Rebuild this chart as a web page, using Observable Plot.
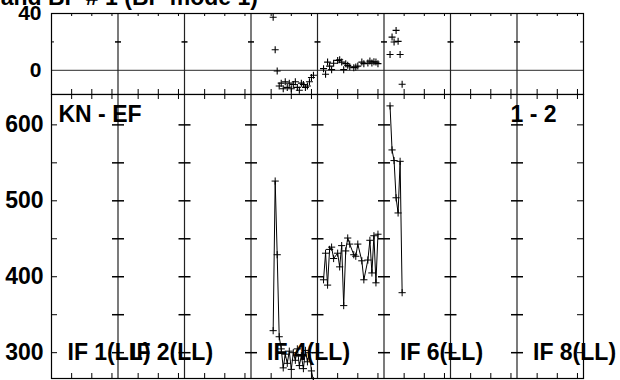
<!DOCTYPE html>
<html><head><meta charset="utf-8">
<script src="https://cdn.jsdelivr.net/npm/d3@7"></script>
<script src="https://cdn.jsdelivr.net/npm/@observablehq/plot@0.6"></script>
<style>
html,body{margin:0;padding:0;background:#fff;}
#wrap{position:relative;width:620px;height:380px;overflow:hidden;background:#fff;font-family:"Liberation Sans",Arial,sans-serif;font-weight:bold;}
#title{position:absolute;right:362px;top:-14px;font-size:23px;line-height:23px;white-space:nowrap;color:#000;}
#wrap svg{position:absolute;left:0;top:0;}
</style></head><body>
<div id="wrap"><div id="title">and BP # 1 (BP mode 1)</div></div>
<script>
// ---- chart data ----
const nIF = 8, chPerIF = 33;
const baselineLabel = "KN - EF";
const stokesLabel = "1 - 2";
const ifLabelNums = [1, 2, 4, 6, 8];
const ifLabelText = ["IF 1(LL)", "IF 2(LL)", "IF 4(LL)", "IF 6(LL)", "IF 8(LL)"];
const xTickChans = [10, 20, 30];
const topTickLabels = [0, 40];
const topMinorTicks = [20];
const botTickLabels = [300, 400, 500, 600];
const botMinorTicks = [300, 350, 400, 450, 500, 550, 600];

// IF 4
const if4Chan = [11,12,13,14,15,16,17,18,19,20,21,22,23,24,25,26,27,28,29,30,31];
const if4Top  = [37.4,14.5,-0.5,-11,-9,-13,-8,-12,-9,-13,-10,-8,-12,-14,-9,-10,-12,-11,-8,-5,-3.5];
const if4Bot  = [329,526,429,321,305,280,298,286,302,278,300,290,305,283,296,279,303,288,300,276,263];
// IF 5
const if5Chan = [3,4,5,6,7,8,10,11,12,13,14,15,16,18,19,20,22,23,25,26,27,28,29,30];
const if5Top  = [1.2,-2.8,5.8,3,0.5,5,7,7.5,5.8,0.5,4.7,3.5,2.5,1.9,2.3,3,5.8,4.7,5.1,6.5,5.1,6,5.8,4.7];
const if5Bot  = [396,431,389,436,439,424,431,413,441,362,434,451,443,429,427,443,421,396,422,448,405,454,392,456];
// IF 6
const if6Chan = [3,4,5,6,7,8,9];
const if6Top  = [11.2,23.4,19.9,28.1,20.4,11.2,-9.8];
const if6Bot  = [625,567,553,504,484,552,379];

// ---- build table ----
const rows = [];
[[4, if4Chan, if4Top, if4Bot], [5, if5Chan, if5Top, if5Bot], [6, if6Chan, if6Top, if6Bot]]
  .forEach(([k, ch, tp, bt]) => ch.forEach((c, i) => rows.push({if: k, x: (k - 1) * chPerIF + c, top: tp[i], bot: bt[i]})));

const bounds = d3.range(1, nIF).map(k => k * chPerIF);
const xTickPos = d3.range(nIF).flatMap(k => xTickChans.map(c => k * chPerIF + c));
const ifLabels = ifLabelNums.map((n, i) => ({x: (n - 1) * chPerIF, t: ifLabelText[i], dx: n === 2 ? 12 : 16}));
const cross = (xs, ys) => xs.flatMap(x => ys.map(y => ({x, y})));

const hline = r => ({draw(ctx) { ctx.moveTo(-r, 0); ctx.lineTo(r, 0); }});
const plus = {draw(ctx, size) { const r = Math.sqrt(size / Math.PI); ctx.moveTo(-r, 0); ctx.lineTo(r, 0); ctx.moveTo(0, -r); ctx.lineTo(0, r); }};

const W = 620, mL = 51, mR = 37, innerW = W - mL - mR;
const font = {fontFamily: "'Liberation Sans', Arial, sans-serif", fontWeight: "bold", background: "transparent", color: "black"};
const lw = 1.2;

// ---- top panel ----
const topH = 95, topMT = 13, topMB = 1, topInner = topH - topMT - topMB;
const topPlot = Plot.plot({
  width: W, height: topH, marginLeft: mL, marginRight: mR, marginTop: topMT, marginBottom: topMB,
  style: {...font, fontSize: "21px"},
  x: {domain: [0, nIF * chPerIF], axis: null},
  y: {domain: [-17, 40], axis: null},
  marks: [
    Plot.ruleY([0], {stroke: "#555", strokeWidth: lw}),
    Plot.ruleX(bounds, {stroke: "#222", strokeWidth: lw}),
    Plot.tickX(xTickPos, {x: d => d, insetBottom: topInner - 3, stroke: "black"}),
    Plot.tickX(xTickPos, {x: d => d, insetTop: topInner - 5, stroke: "black"}),
    Plot.dot(cross(bounds, topMinorTicks), {x: "x", y: "y", symbol: hline(3), stroke: "black"}),
    Plot.tickY(topMinorTicks, {y: d => d, insetRight: innerW - 3, stroke: "black"}),
    Plot.tickY(topMinorTicks, {y: d => d, insetLeft: innerW - 3, stroke: "black"}),
    Plot.dot(rows, {x: "x", y: "top", symbol: plus, r: 3.5, stroke: "black", strokeWidth: 1.1}),
    Plot.frame({stroke: "black", strokeWidth: lw}),
    Plot.axisY({ticks: topTickLabels, tickSize: 0, tickPadding: 10, fontSize: 21, fontWeight: "bold", tickFormat: d => String(d)})
  ]
});

// ---- bottom panel ----
const botH = 380, botMT = 94, botMB = 2, botInner = botH - botMT - botMB;
const botPlot = Plot.plot({
  width: W, height: botH, marginLeft: mL, marginRight: mR, marginTop: botMT, marginBottom: botMB,
  style: {...font, fontSize: "23px"},
  x: {domain: [0, nIF * chPerIF], axis: null},
  y: {domain: [266, 640], axis: null},
  marks: [
    Plot.ruleX(bounds, {stroke: "#222", strokeWidth: lw}),
    Plot.tickX(xTickPos, {x: d => d, insetBottom: botInner - 5, stroke: "black"}),
    Plot.tickX(xTickPos, {x: d => d, insetTop: botInner - 5, stroke: "black"}),
    Plot.dot(cross(bounds, botMinorTicks), {x: "x", y: "y", symbol: hline(6), stroke: "black"}),
    Plot.tickY(botMinorTicks, {y: d => d, insetRight: innerW - 6, stroke: "black"}),
    Plot.tickY(botMinorTicks, {y: d => d, insetLeft: innerW - 6, stroke: "black"}),
    Plot.line(rows, {x: "x", y: "bot", z: "if", stroke: "black", strokeWidth: 1}),
    Plot.dot(rows, {x: "x", y: "bot", symbol: plus, r: 3.6, stroke: "black", strokeWidth: 1}),
    Plot.frame({stroke: "black", strokeWidth: lw}),
    Plot.text([baselineLabel], {frameAnchor: "top-left", text: d => d, textAnchor: "start", lineAnchor: "top", dx: 7, dy: 11, fontSize: 23, fontWeight: "bold", fill: "black"}),
    Plot.text([stokesLabel], {frameAnchor: "top-right", text: d => d, textAnchor: "end", lineAnchor: "top", dx: -27, dy: 11, fontSize: 23, fontWeight: "bold", fill: "black"}),
    ...ifLabels.map(l => Plot.text([l], {x: "x", frameAnchor: "bottom", text: "t", textAnchor: "start", lineAnchor: "middle", dx: l.dx, dy: -25.7, fontSize: 23, fontWeight: "bold", fill: "black"})),
    Plot.axisY({ticks: botTickLabels, tickSize: 0, tickPadding: 8, fontSize: 23, fontWeight: "bold", tickFormat: d => String(d)})
  ]
});

const wrap = document.getElementById("wrap");
wrap.appendChild(topPlot);
wrap.appendChild(botPlot);
</script>
</body></html>
